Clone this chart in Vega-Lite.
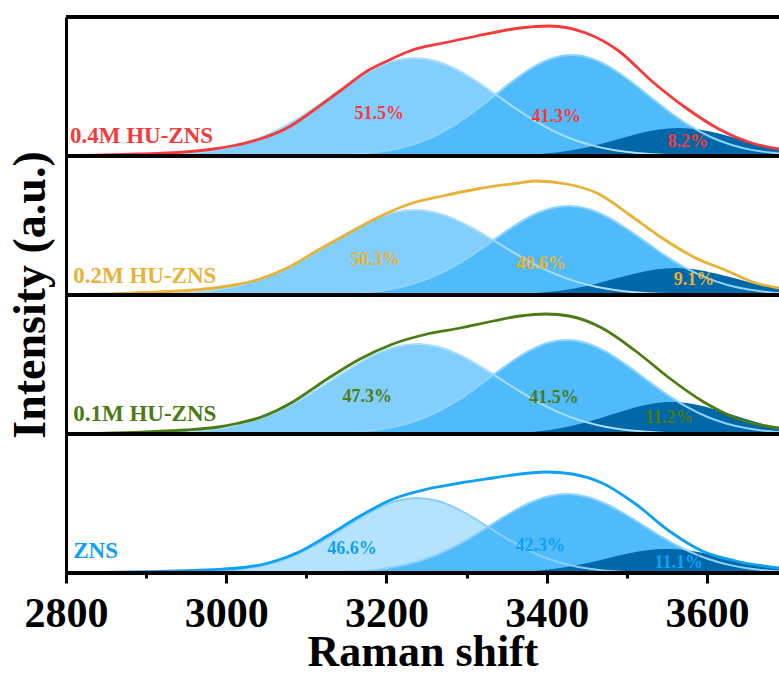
{
  "$schema": "https://vega.github.io/schema/vega-lite/v6.json",
  "background": "white",
  "padding": {"left": 7, "top": 15, "right": 0, "bottom": 0},
  "spacing": 0,
  "bounds": "flush",
  "data": {"values": [
    {"p":"A","k":"c1","x":2835,"y":0.07},{"p":"A","k":"c1","x":2860,"y":0.17},{"p":"A","k":"c1","x":2885,"y":0.38},{"p":"A","k":"c1","x":2910,"y":0.81},{"p":"A","k":"c1","x":2935,"y":1.65},{"p":"A","k":"c1","x":2960,"y":3.18},{"p":"A","k":"c1","x":2985,"y":5.76},{"p":"A","k":"c1","x":3010,"y":9.86},{"p":"A","k":"c1","x":3035,"y":15.97},{"p":"A","k":"c1","x":3060,"y":24.44},{"p":"A","k":"c1","x":3085,"y":35.32},{"p":"A","k":"c1","x":3110,"y":48.25},{"p":"A","k":"c1","x":3135,"y":62.27},{"p":"A","k":"c1","x":3160,"y":75.93},{"p":"A","k":"c1","x":3185,"y":87.5},{"p":"A","k":"c1","x":3210,"y":95.26},{"p":"A","k":"c1","x":3235,"y":98},{"p":"A","k":"c1","x":3260,"y":95.26},{"p":"A","k":"c1","x":3285,"y":87.5},{"p":"A","k":"c1","x":3310,"y":75.93},{"p":"A","k":"c1","x":3335,"y":62.27},{"p":"A","k":"c1","x":3360,"y":48.25},{"p":"A","k":"c1","x":3385,"y":35.32},{"p":"A","k":"c1","x":3410,"y":24.44},{"p":"A","k":"c1","x":3435,"y":15.97},{"p":"A","k":"c1","x":3460,"y":9.86},{"p":"A","k":"c1","x":3485,"y":5.76},{"p":"A","k":"c1","x":3510,"y":3.18},{"p":"A","k":"c1","x":3535,"y":1.65},{"p":"A","k":"c1","x":3560,"y":0.81},{"p":"A","k":"c1","x":3585,"y":0.38},{"p":"A","k":"c1","x":3610,"y":0.17},{"p":"A","k":"c1","x":3635,"y":0.07},
    {"p":"A","k":"c2","x":3081,"y":0.11},{"p":"A","k":"c2","x":3106,"y":0.29},{"p":"A","k":"c2","x":3131,"y":0.69},{"p":"A","k":"c2","x":3156,"y":1.53},{"p":"A","k":"c2","x":3181,"y":3.17},{"p":"A","k":"c2","x":3206,"y":6.11},{"p":"A","k":"c2","x":3231,"y":11.01},{"p":"A","k":"c2","x":3256,"y":18.51},{"p":"A","k":"c2","x":3281,"y":29.04},{"p":"A","k":"c2","x":3306,"y":42.5},{"p":"A","k":"c2","x":3331,"y":58.04},{"p":"A","k":"c2","x":3356,"y":73.96},{"p":"A","k":"c2","x":3381,"y":87.94},{"p":"A","k":"c2","x":3406,"y":97.56},{"p":"A","k":"c2","x":3431,"y":101},{"p":"A","k":"c2","x":3456,"y":97.56},{"p":"A","k":"c2","x":3481,"y":87.94},{"p":"A","k":"c2","x":3506,"y":73.96},{"p":"A","k":"c2","x":3531,"y":58.04},{"p":"A","k":"c2","x":3556,"y":42.5},{"p":"A","k":"c2","x":3581,"y":29.04},{"p":"A","k":"c2","x":3606,"y":18.51},{"p":"A","k":"c2","x":3631,"y":11.01},{"p":"A","k":"c2","x":3656,"y":6.11},{"p":"A","k":"c2","x":3681,"y":3.17},{"p":"A","k":"c2","x":3706,"y":1.53},
    {"p":"A","k":"c3","x":3315,"y":0.11},{"p":"A","k":"c3","x":3340,"y":0.31},{"p":"A","k":"c3","x":3365,"y":0.8},{"p":"A","k":"c3","x":3390,"y":1.84},{"p":"A","k":"c3","x":3415,"y":3.79},{"p":"A","k":"c3","x":3440,"y":6.98},{"p":"A","k":"c3","x":3465,"y":11.51},{"p":"A","k":"c3","x":3490,"y":16.98},{"p":"A","k":"c3","x":3515,"y":22.42},{"p":"A","k":"c3","x":3540,"y":26.49},{"p":"A","k":"c3","x":3565,"y":28},{"p":"A","k":"c3","x":3590,"y":26.49},{"p":"A","k":"c3","x":3615,"y":22.42},{"p":"A","k":"c3","x":3640,"y":16.98},{"p":"A","k":"c3","x":3665,"y":11.51},{"p":"A","k":"c3","x":3690,"y":6.98},{"p":"A","k":"c3","x":3715,"y":3.79},
    {"p":"A","k":"env","x":2800,"y":0.5},{"p":"A","k":"env","x":2850,"y":1},{"p":"A","k":"env","x":2890,"y":2},{"p":"A","k":"env","x":2940,"y":3.5},{"p":"A","k":"env","x":2980,"y":6.5},{"p":"A","k":"env","x":3010,"y":10.5},{"p":"A","k":"env","x":3042,"y":17},{"p":"A","k":"env","x":3076,"y":28},{"p":"A","k":"env","x":3108,"y":45},{"p":"A","k":"env","x":3142,"y":65},{"p":"A","k":"env","x":3176,"y":85},{"p":"A","k":"env","x":3201,"y":95},{"p":"A","k":"env","x":3229,"y":105},{"p":"A","k":"env","x":3271,"y":113},{"p":"A","k":"env","x":3313,"y":120},{"p":"A","k":"env","x":3367,"y":128},{"p":"A","k":"env","x":3403,"y":130},{"p":"A","k":"env","x":3449,"y":123},{"p":"A","k":"env","x":3490,"y":105},{"p":"A","k":"env","x":3531,"y":75},{"p":"A","k":"env","x":3574,"y":48},{"p":"A","k":"env","x":3615,"y":27},{"p":"A","k":"env","x":3656,"y":13},{"p":"A","k":"env","x":3690,"y":7},

    {"p":"B","k":"c1","x":2835,"y":0.06},{"p":"B","k":"c1","x":2860,"y":0.14},{"p":"B","k":"c1","x":2885,"y":0.33},{"p":"B","k":"c1","x":2910,"y":0.71},{"p":"B","k":"c1","x":2935,"y":1.43},{"p":"B","k":"c1","x":2960,"y":2.75},{"p":"B","k":"c1","x":2985,"y":4.99},{"p":"B","k":"c1","x":3010,"y":8.56},{"p":"B","k":"c1","x":3035,"y":13.85},{"p":"B","k":"c1","x":3060,"y":21.19},{"p":"B","k":"c1","x":3085,"y":30.64},{"p":"B","k":"c1","x":3110,"y":41.85},{"p":"B","k":"c1","x":3135,"y":54.01},{"p":"B","k":"c1","x":3160,"y":65.86},{"p":"B","k":"c1","x":3185,"y":75.89},{"p":"B","k":"c1","x":3210,"y":82.62},{"p":"B","k":"c1","x":3235,"y":85},{"p":"B","k":"c1","x":3260,"y":82.62},{"p":"B","k":"c1","x":3285,"y":75.89},{"p":"B","k":"c1","x":3310,"y":65.86},{"p":"B","k":"c1","x":3335,"y":54.01},{"p":"B","k":"c1","x":3360,"y":41.85},{"p":"B","k":"c1","x":3385,"y":30.64},{"p":"B","k":"c1","x":3410,"y":21.19},{"p":"B","k":"c1","x":3435,"y":13.85},{"p":"B","k":"c1","x":3460,"y":8.56},{"p":"B","k":"c1","x":3485,"y":4.99},{"p":"B","k":"c1","x":3510,"y":2.75},{"p":"B","k":"c1","x":3535,"y":1.43},{"p":"B","k":"c1","x":3560,"y":0.71},{"p":"B","k":"c1","x":3585,"y":0.33},{"p":"B","k":"c1","x":3610,"y":0.14},{"p":"B","k":"c1","x":3635,"y":0.06},
    {"p":"B","k":"c2","x":3077,"y":0.1},{"p":"B","k":"c2","x":3102,"y":0.26},{"p":"B","k":"c2","x":3127,"y":0.61},{"p":"B","k":"c2","x":3152,"y":1.35},{"p":"B","k":"c2","x":3177,"y":2.79},{"p":"B","k":"c2","x":3202,"y":5.39},{"p":"B","k":"c2","x":3227,"y":9.7},{"p":"B","k":"c2","x":3252,"y":16.31},{"p":"B","k":"c2","x":3277,"y":25.59},{"p":"B","k":"c2","x":3302,"y":37.45},{"p":"B","k":"c2","x":3327,"y":51.14},{"p":"B","k":"c2","x":3352,"y":65.17},{"p":"B","k":"c2","x":3377,"y":77.49},{"p":"B","k":"c2","x":3402,"y":85.97},{"p":"B","k":"c2","x":3427,"y":89},{"p":"B","k":"c2","x":3452,"y":85.97},{"p":"B","k":"c2","x":3477,"y":77.49},{"p":"B","k":"c2","x":3502,"y":65.17},{"p":"B","k":"c2","x":3527,"y":51.14},{"p":"B","k":"c2","x":3552,"y":37.45},{"p":"B","k":"c2","x":3577,"y":25.59},{"p":"B","k":"c2","x":3602,"y":16.31},{"p":"B","k":"c2","x":3627,"y":9.7},{"p":"B","k":"c2","x":3652,"y":5.39},{"p":"B","k":"c2","x":3677,"y":2.79},{"p":"B","k":"c2","x":3702,"y":1.35},
    {"p":"B","k":"c3","x":3311,"y":0.1},{"p":"B","k":"c3","x":3336,"y":0.3},{"p":"B","k":"c3","x":3361,"y":0.77},{"p":"B","k":"c3","x":3386,"y":1.77},{"p":"B","k":"c3","x":3411,"y":3.65},{"p":"B","k":"c3","x":3436,"y":6.73},{"p":"B","k":"c3","x":3461,"y":11.1},{"p":"B","k":"c3","x":3486,"y":16.38},{"p":"B","k":"c3","x":3511,"y":21.62},{"p":"B","k":"c3","x":3536,"y":25.54},{"p":"B","k":"c3","x":3561,"y":27},{"p":"B","k":"c3","x":3586,"y":25.54},{"p":"B","k":"c3","x":3611,"y":21.62},{"p":"B","k":"c3","x":3636,"y":16.38},{"p":"B","k":"c3","x":3661,"y":11.1},{"p":"B","k":"c3","x":3686,"y":6.73},{"p":"B","k":"c3","x":3711,"y":3.65},
    {"p":"B","k":"env","x":2800,"y":0.5},{"p":"B","k":"env","x":2850,"y":1},{"p":"B","k":"env","x":2895,"y":2.5},{"p":"B","k":"env","x":2940,"y":4},{"p":"B","k":"env","x":2980,"y":6.5},{"p":"B","k":"env","x":3010,"y":10},{"p":"B","k":"env","x":3042,"y":16},{"p":"B","k":"env","x":3076,"y":27},{"p":"B","k":"env","x":3117,"y":46},{"p":"B","k":"env","x":3158,"y":64},{"p":"B","k":"env","x":3188,"y":77},{"p":"B","k":"env","x":3229,"y":91},{"p":"B","k":"env","x":3270,"y":99},{"p":"B","k":"env","x":3313,"y":106},{"p":"B","k":"env","x":3366,"y":112},{"p":"B","k":"env","x":3386,"y":114},{"p":"B","k":"env","x":3425,"y":111},{"p":"B","k":"env","x":3465,"y":101},{"p":"B","k":"env","x":3502,"y":81},{"p":"B","k":"env","x":3544,"y":57},{"p":"B","k":"env","x":3586,"y":37},{"p":"B","k":"env","x":3623,"y":25},{"p":"B","k":"env","x":3661,"y":12},{"p":"B","k":"env","x":3690,"y":7},

    {"p":"C","k":"c1","x":2838,"y":0.06},{"p":"C","k":"c1","x":2863,"y":0.15},{"p":"C","k":"c1","x":2888,"y":0.35},{"p":"C","k":"c1","x":2913,"y":0.75},{"p":"C","k":"c1","x":2938,"y":1.52},{"p":"C","k":"c1","x":2963,"y":2.92},{"p":"C","k":"c1","x":2988,"y":5.29},{"p":"C","k":"c1","x":3013,"y":9.06},{"p":"C","k":"c1","x":3038,"y":14.67},{"p":"C","k":"c1","x":3063,"y":22.44},{"p":"C","k":"c1","x":3088,"y":32.44},{"p":"C","k":"c1","x":3113,"y":44.31},{"p":"C","k":"c1","x":3138,"y":57.19},{"p":"C","k":"c1","x":3163,"y":69.73},{"p":"C","k":"c1","x":3188,"y":80.35},{"p":"C","k":"c1","x":3213,"y":87.48},{"p":"C","k":"c1","x":3238,"y":90},{"p":"C","k":"c1","x":3263,"y":87.48},{"p":"C","k":"c1","x":3288,"y":80.35},{"p":"C","k":"c1","x":3313,"y":69.73},{"p":"C","k":"c1","x":3338,"y":57.19},{"p":"C","k":"c1","x":3363,"y":44.31},{"p":"C","k":"c1","x":3388,"y":32.44},{"p":"C","k":"c1","x":3413,"y":22.44},{"p":"C","k":"c1","x":3438,"y":14.67},{"p":"C","k":"c1","x":3463,"y":9.06},{"p":"C","k":"c1","x":3488,"y":5.29},{"p":"C","k":"c1","x":3513,"y":2.92},{"p":"C","k":"c1","x":3538,"y":1.52},{"p":"C","k":"c1","x":3563,"y":0.75},{"p":"C","k":"c1","x":3588,"y":0.35},{"p":"C","k":"c1","x":3613,"y":0.15},{"p":"C","k":"c1","x":3638,"y":0.06},
    {"p":"C","k":"c2","x":3075,"y":0.11},{"p":"C","k":"c2","x":3100,"y":0.27},{"p":"C","k":"c2","x":3125,"y":0.64},{"p":"C","k":"c2","x":3150,"y":1.42},{"p":"C","k":"c2","x":3175,"y":2.95},{"p":"C","k":"c2","x":3200,"y":5.69},{"p":"C","k":"c2","x":3225,"y":10.25},{"p":"C","k":"c2","x":3250,"y":17.23},{"p":"C","k":"c2","x":3275,"y":27.03},{"p":"C","k":"c2","x":3300,"y":39.55},{"p":"C","k":"c2","x":3325,"y":54.02},{"p":"C","k":"c2","x":3350,"y":68.83},{"p":"C","k":"c2","x":3375,"y":81.84},{"p":"C","k":"c2","x":3400,"y":90.8},{"p":"C","k":"c2","x":3425,"y":94},{"p":"C","k":"c2","x":3450,"y":90.8},{"p":"C","k":"c2","x":3475,"y":81.84},{"p":"C","k":"c2","x":3500,"y":68.83},{"p":"C","k":"c2","x":3525,"y":54.02},{"p":"C","k":"c2","x":3550,"y":39.55},{"p":"C","k":"c2","x":3575,"y":27.03},{"p":"C","k":"c2","x":3600,"y":17.23},{"p":"C","k":"c2","x":3625,"y":10.25},{"p":"C","k":"c2","x":3650,"y":5.69},{"p":"C","k":"c2","x":3675,"y":2.95},{"p":"C","k":"c2","x":3700,"y":1.42},
    {"p":"C","k":"c3","x":3306,"y":0.12},{"p":"C","k":"c3","x":3331,"y":0.36},{"p":"C","k":"c3","x":3356,"y":0.91},{"p":"C","k":"c3","x":3381,"y":2.1},{"p":"C","k":"c3","x":3406,"y":4.33},{"p":"C","k":"c3","x":3431,"y":7.98},{"p":"C","k":"c3","x":3456,"y":13.16},{"p":"C","k":"c3","x":3481,"y":19.41},{"p":"C","k":"c3","x":3506,"y":25.62},{"p":"C","k":"c3","x":3531,"y":30.27},{"p":"C","k":"c3","x":3556,"y":32},{"p":"C","k":"c3","x":3581,"y":30.27},{"p":"C","k":"c3","x":3606,"y":25.62},{"p":"C","k":"c3","x":3631,"y":19.41},{"p":"C","k":"c3","x":3656,"y":13.16},{"p":"C","k":"c3","x":3681,"y":7.98},{"p":"C","k":"c3","x":3706,"y":4.33},
    {"p":"C","k":"env","x":2800,"y":0.4},{"p":"C","k":"env","x":2850,"y":0.9},{"p":"C","k":"env","x":2900,"y":2.2},{"p":"C","k":"env","x":2950,"y":4},{"p":"C","k":"env","x":2990,"y":7},{"p":"C","k":"env","x":3013,"y":10.5},{"p":"C","k":"env","x":3042,"y":16.5},{"p":"C","k":"env","x":3063,"y":23.5},{"p":"C","k":"env","x":3083,"y":32},{"p":"C","k":"env","x":3126,"y":55},{"p":"C","k":"env","x":3167,"y":75},{"p":"C","k":"env","x":3208,"y":90},{"p":"C","k":"env","x":3251,"y":100},{"p":"C","k":"env","x":3292,"y":106},{"p":"C","k":"env","x":3333,"y":113},{"p":"C","k":"env","x":3367,"y":118},{"p":"C","k":"env","x":3399,"y":120},{"p":"C","k":"env","x":3428,"y":118},{"p":"C","k":"env","x":3469,"y":106},{"p":"C","k":"env","x":3511,"y":83},{"p":"C","k":"env","x":3553,"y":56},{"p":"C","k":"env","x":3594,"y":33},{"p":"C","k":"env","x":3636,"y":16},{"p":"C","k":"env","x":3674,"y":8},{"p":"C","k":"env","x":3690,"y":6},

    {"p":"D","k":"c1","x":2913,"y":0.11},{"p":"D","k":"c1","x":2938,"y":0.29},{"p":"D","k":"c1","x":2963,"y":0.7},{"p":"D","k":"c1","x":2988,"y":1.58},{"p":"D","k":"c1","x":3013,"y":3.3},{"p":"D","k":"c1","x":3038,"y":6.35},{"p":"D","k":"c1","x":3063,"y":11.33},{"p":"D","k":"c1","x":3088,"y":18.7},{"p":"D","k":"c1","x":3113,"y":28.59},{"p":"D","k":"c1","x":3138,"y":40.46},{"p":"D","k":"c1","x":3163,"y":53},{"p":"D","k":"c1","x":3188,"y":64.28},{"p":"D","k":"c1","x":3213,"y":72.16},{"p":"D","k":"c1","x":3238,"y":75},{"p":"D","k":"c1","x":3263,"y":72.16},{"p":"D","k":"c1","x":3288,"y":64.28},{"p":"D","k":"c1","x":3313,"y":53},{"p":"D","k":"c1","x":3338,"y":40.46},{"p":"D","k":"c1","x":3363,"y":28.59},{"p":"D","k":"c1","x":3388,"y":18.7},{"p":"D","k":"c1","x":3413,"y":11.33},{"p":"D","k":"c1","x":3438,"y":6.35},{"p":"D","k":"c1","x":3463,"y":3.3},{"p":"D","k":"c1","x":3488,"y":1.58},{"p":"D","k":"c1","x":3513,"y":0.7},{"p":"D","k":"c1","x":3538,"y":0.29},{"p":"D","k":"c1","x":3563,"y":0.11},
    {"p":"D","k":"c2","x":3075,"y":0.09},{"p":"D","k":"c2","x":3100,"y":0.23},{"p":"D","k":"c2","x":3125,"y":0.54},{"p":"D","k":"c2","x":3150,"y":1.2},{"p":"D","k":"c2","x":3175,"y":2.48},{"p":"D","k":"c2","x":3200,"y":4.78},{"p":"D","k":"c2","x":3225,"y":8.61},{"p":"D","k":"c2","x":3250,"y":14.48},{"p":"D","k":"c2","x":3275,"y":22.71},{"p":"D","k":"c2","x":3300,"y":33.24},{"p":"D","k":"c2","x":3325,"y":45.4},{"p":"D","k":"c2","x":3350,"y":57.85},{"p":"D","k":"c2","x":3375,"y":68.78},{"p":"D","k":"c2","x":3400,"y":76.31},{"p":"D","k":"c2","x":3425,"y":79},{"p":"D","k":"c2","x":3450,"y":76.31},{"p":"D","k":"c2","x":3475,"y":68.78},{"p":"D","k":"c2","x":3500,"y":57.85},{"p":"D","k":"c2","x":3525,"y":45.4},{"p":"D","k":"c2","x":3550,"y":33.24},{"p":"D","k":"c2","x":3575,"y":22.71},{"p":"D","k":"c2","x":3600,"y":14.48},{"p":"D","k":"c2","x":3625,"y":8.61},{"p":"D","k":"c2","x":3650,"y":4.78},{"p":"D","k":"c2","x":3675,"y":2.48},{"p":"D","k":"c2","x":3700,"y":1.2},
    {"p":"D","k":"c3","x":3300,"y":0.09},{"p":"D","k":"c3","x":3325,"y":0.27},{"p":"D","k":"c3","x":3350,"y":0.69},{"p":"D","k":"c3","x":3375,"y":1.58},{"p":"D","k":"c3","x":3400,"y":3.25},{"p":"D","k":"c3","x":3425,"y":5.98},{"p":"D","k":"c3","x":3450,"y":9.87},{"p":"D","k":"c3","x":3475,"y":14.56},{"p":"D","k":"c3","x":3500,"y":19.22},{"p":"D","k":"c3","x":3525,"y":22.7},{"p":"D","k":"c3","x":3550,"y":24},{"p":"D","k":"c3","x":3575,"y":22.7},{"p":"D","k":"c3","x":3600,"y":19.22},{"p":"D","k":"c3","x":3625,"y":14.56},{"p":"D","k":"c3","x":3650,"y":9.87},{"p":"D","k":"c3","x":3675,"y":5.98},{"p":"D","k":"c3","x":3700,"y":3.25},
    {"p":"D","k":"env","x":2800,"y":0.3},{"p":"D","k":"env","x":2850,"y":0.6},{"p":"D","k":"env","x":2900,"y":1.3},{"p":"D","k":"env","x":2950,"y":2.3},{"p":"D","k":"env","x":2990,"y":3.6},{"p":"D","k":"env","x":3020,"y":5.5},{"p":"D","k":"env","x":3042,"y":8},{"p":"D","k":"env","x":3063,"y":12.5},{"p":"D","k":"env","x":3088,"y":20},{"p":"D","k":"env","x":3126,"y":37},{"p":"D","k":"env","x":3167,"y":57},{"p":"D","k":"env","x":3208,"y":74},{"p":"D","k":"env","x":3251,"y":84},{"p":"D","k":"env","x":3292,"y":90},{"p":"D","k":"env","x":3333,"y":95},{"p":"D","k":"env","x":3367,"y":99},{"p":"D","k":"env","x":3399,"y":101},{"p":"D","k":"env","x":3432,"y":99},{"p":"D","k":"env","x":3469,"y":90},{"p":"D","k":"env","x":3511,"y":69},{"p":"D","k":"env","x":3553,"y":42},{"p":"D","k":"env","x":3594,"y":22},{"p":"D","k":"env","x":3636,"y":12},{"p":"D","k":"env","x":3690,"y":5},

    {"p":"A","k":"name","x":2805,"y":13,"t":"0.4M HU-ZNS"},
    {"p":"B","k":"name","x":2809,"y":12,"t":"0.2M HU-ZNS"},
    {"p":"C","k":"name","x":2809,"y":13,"t":"0.1M HU-ZNS"},
    {"p":"D","k":"name","x":2809,"y":15,"t":"ZNS"},
    {"p":"A","k":"pct","x":3191,"y":42,"t":"51.5%"},
    {"p":"A","k":"pct","x":3412,"y":39,"t":"41.3%"},
    {"p":"A","k":"pct","x":3576,"y":14,"t":"8.2%"},
    {"p":"B","k":"pct","x":3186,"y":35,"t":"50.3%"},
    {"p":"B","k":"pct","x":3393,"y":31,"t":"40.6%"},
    {"p":"B","k":"pct","x":3584,"y":15,"t":"9.1%"},
    {"p":"C","k":"pct","x":3176,"y":37,"t":"47.3%"},
    {"p":"C","k":"pct","x":3409,"y":36,"t":"41.5%"},
    {"p":"C","k":"pct","x":3553,"y":16,"t":"11.2%"},
    {"p":"D","k":"pct","x":3157,"y":24,"t":"46.6%"},
    {"p":"D","k":"pct","x":3392,"y":27,"t":"42.3%"},
    {"p":"D","k":"pct","x":3565,"y":10,"t":"11.1%"}
  ]},
  "facet": {
    "row": {
      "field": "p", "type": "nominal", "sort": ["A", "B", "C", "D"],
      "title": "Intensity (a.u.)",
      "header": {"labels": false, "titleFont": "Liberation Serif", "titleFontSize": 46, "titleFontWeight": "bold", "titleColor": "black", "titlePadding": 1}
    }
  },
  "spec": {
    "width": 713,
    "height": 139,
    "layer": [
      {
        "transform": [{"filter": {"field": "k", "equal": "c1"}}],
        "mark": {"type": "area", "interpolate": "monotone", "clip": true},
        "encoding": {
          "x": {"field": "x", "type": "quantitative", "scale": {"domain": [2800, 3690], "nice": false, "zero": false},
            "axis": {"values": [2800, 2900, 3000, 3100, 3200, 3300, 3400, 3500, 3600], "format": "d",
              "labelExpr": "datum.value % 200 === 0 ? datum.label : ''",
              "tickSize": {"condition": {"test": "datum.value % 200 === 0", "value": 10}, "value": 5},
              "tickWidth": 3, "tickColor": "black", "domainWidth": 3, "domainColor": "black", "grid": false,
              "labelFont": "Liberation Serif", "labelFontSize": 42, "labelFontWeight": "bold", "labelColor": "black",
              "labelPadding": 10, "labelOverlap": false, "labelFlush": false,
              "title": "Raman shift", "titleFont": "Liberation Serif", "titleFontSize": 44, "titleFontWeight": "bold", "titleColor": "black", "titlePadding": -4}},
          "y": {"field": "y", "type": "quantitative", "scale": {"domain": [0, 139], "nice": false},
            "axis": {"title": null, "labels": false, "ticks": false, "grid": false, "domainWidth": 3, "domainColor": "black"}},
          "fill": {"condition": {"test": "datum.p === 'D'", "value": "#B5E3FD"}, "value": "#82CFFD"}
        }
      },
      {
        "transform": [{"filter": {"field": "k", "equal": "c2"}}],
        "mark": {"type": "area", "interpolate": "monotone", "clip": true, "fill": "#50BBFA"},
        "encoding": {"x": {"field": "x", "type": "quantitative"}, "y": {"field": "y", "type": "quantitative"}}
      },
      {
        "transform": [{"filter": {"field": "k", "equal": "c3"}}],
        "mark": {"type": "area", "interpolate": "monotone", "clip": true, "fill": "#0068A8"},
        "encoding": {"x": {"field": "x", "type": "quantitative"}, "y": {"field": "y", "type": "quantitative"}}
      },
      {
        "transform": [{"filter": {"field": "k", "equal": "c1"}}],
        "mark": {"type": "line", "interpolate": "monotone", "clip": true, "strokeWidth": 2},
        "encoding": {"x": {"field": "x", "type": "quantitative"}, "y": {"field": "y", "type": "quantitative"},
          "stroke": {"condition": {"test": "datum.p === 'D'", "value": "#86CFF8"}, "value": "#A9DFFC"}}
      },
      {
        "transform": [{"filter": {"field": "k", "equal": "c2"}}],
        "mark": {"type": "line", "interpolate": "monotone", "clip": true, "strokeWidth": 2, "stroke": "#8ED4FA"},
        "encoding": {"x": {"field": "x", "type": "quantitative"}, "y": {"field": "y", "type": "quantitative"}}
      },
      {
        "transform": [{"filter": {"field": "k", "equal": "env"}}],
        "mark": {"type": "line", "interpolate": "monotone", "clip": true, "strokeWidth": 2.8},
        "encoding": {"x": {"field": "x", "type": "quantitative"}, "y": {"field": "y", "type": "quantitative"},
          "color": {"field": "p", "type": "nominal", "scale": {"domain": ["A", "B", "C", "D"], "range": ["#F53A3C", "#E8B238", "#4C7A13", "#0EA0F4"]}, "legend": null}}
      },
      {
        "mark": {"type": "rule", "strokeWidth": 3, "color": "black"},
        "encoding": {"y": {"datum": 0}}
      },
      {
        "mark": {"type": "rule", "strokeWidth": 3, "color": "black"},
        "encoding": {"y": {"datum": 139}}
      },
      {
        "transform": [{"filter": {"field": "k", "equal": "name"}}],
        "mark": {"type": "text", "align": "left", "baseline": "alphabetic", "font": "Liberation Serif", "fontSize": 23, "fontWeight": "bold"},
        "encoding": {"x": {"field": "x", "type": "quantitative"}, "y": {"field": "y", "type": "quantitative"}, "text": {"field": "t"},
          "color": {"field": "p", "type": "nominal", "legend": null}}
      },
      {
        "transform": [{"filter": {"field": "k", "equal": "pct"}}],
        "mark": {"type": "text", "align": "center", "baseline": "middle", "font": "Liberation Serif", "fontSize": 18, "fontWeight": "bold"},
        "encoding": {"x": {"field": "x", "type": "quantitative"}, "y": {"field": "y", "type": "quantitative"}, "text": {"field": "t"},
          "color": {"field": "p", "type": "nominal", "legend": null}}
      }
    ]
  },
  "config": {"view": {"stroke": null}}
}
